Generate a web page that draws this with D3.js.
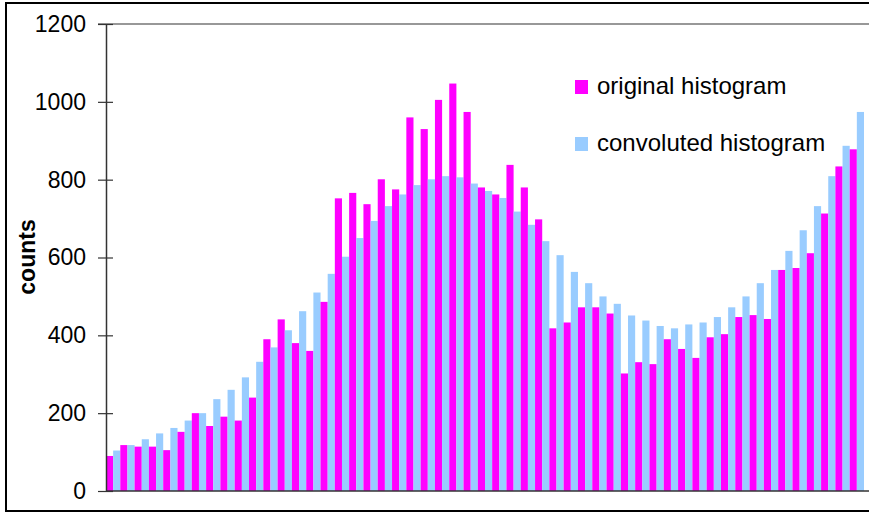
<!DOCTYPE html>
<html>
<head>
<meta charset="utf-8">
<script src="https://cdn.jsdelivr.net/npm/d3@7"></script>
<style>
  html, body { margin: 0; padding: 0; background: #fff; }
  svg { display: block; font-family: "Liberation Sans", Arial, Helvetica, sans-serif; }
</style>
</head>
<body>
<svg id="chart" width="869" height="515"></svg>
<script>
// Histogram bins (one per category) and the two series
const categories = d3.range(1, 54);
const original = [90,118,114,114,105,152,200,167,191,181,240,390,441,380,360,486,752,766,737,801,775,960,930,1005,1047,974,780,762,838,780,698,418,433,472,472,456,302,331,326,390,365,342,395,403,447,452,442,568,573,611,713,834,878];
const convoluted = [104,118,133,148,162,181,200,236,260,292,332,369,413,462,510,558,602,650,694,732,762,786,801,809,806,790,771,753,718,684,642,606,563,534,500,481,451,438,424,418,428,433,447,472,500,534,568,617,670,732,809,887,974];
const seriesNames = ["original histogram", "convoluted histogram"];
const seriesColors = ["#FF00FF", "#99CCFF"];
const yTicks = [0, 200, 400, 600, 800, 1000, 1200];

const svg = d3.select("#chart");
const plot = { left: 106, right: 864, top: 24, bottom: 491 };

// outer frame
svg.append("rect")
  .attr("x", 6).attr("y", 3).attr("width", 870).attr("height", 508)
  .attr("fill", "none").attr("stroke", "#000").attr("stroke-width", 2);

const x = d3.scaleBand().domain(categories).range([plot.left, plot.right]).padding(0);
const xs = d3.scaleBand().domain(seriesNames).range([0, x.bandwidth()]).padding(0);
const y = d3.scaleLinear().domain([0, 1200]).range([plot.bottom, plot.top]);

const rows = categories.map((c, i) => ({ cat: c, values: [original[i], convoluted[i]] }));

const groups = svg.append("g").selectAll("g")
  .data(rows).join("g")
  .attr("transform", d => `translate(${x(d.cat)},0)`);

groups.selectAll("rect")
  .data(d => d.values.map((v, k) => ({ key: seriesNames[k], value: v, k })))
  .join("rect")
  .attr("x", d => xs(d.key))
  .attr("width", xs.bandwidth())
  .attr("y", d => y(d.value))
  .attr("height", d => y(0) - y(d.value))
  .attr("fill", d => seriesColors[d.k]);

// top border line of the plot area
svg.append("line")
  .attr("x1", 98).attr("x2", 869)
  .attr("y1", y(1200)).attr("y2", y(1200))
  .attr("stroke", "#333").attr("stroke-width", 1.2);

// x axis line
svg.append("line")
  .attr("x1", plot.left).attr("x2", 869)
  .attr("y1", y(0)).attr("y2", y(0))
  .attr("stroke", "#333").attr("stroke-width", 1.5);

// y axis with crossing ticks
const yAxis = d3.axisLeft(y).tickValues(yTicks).tickFormat(d3.format("d"))
  .tickSizeInner(8).tickSizeOuter(0).tickPadding(12);
const ya = svg.append("g").attr("transform", `translate(${plot.left},0)`).call(yAxis);
ya.select(".domain").attr("stroke", "#333").attr("stroke-width", 1.5);
ya.selectAll(".tick line").attr("stroke", "#333").attr("stroke-width", 1.2).attr("x2", 7).attr("x1", -8);
ya.selectAll(".tick text")
  .attr("x", -20)
  .attr("fill", "#000")
  .style("font-size", "23px")
  .style("font-family", "'Liberation Sans', Arial, sans-serif");

// y axis title
svg.append("text")
  .attr("transform", "translate(35,257) rotate(-90)")
  .attr("text-anchor", "middle")
  .style("font-size", "23px")
  .style("font-weight", "bold")
  .text("counts");

// legend
const legend = svg.append("g");
const legendY = [80, 137];
seriesNames.forEach((name, k) => {
  legend.append("rect")
    .attr("x", 575).attr("y", legendY[k]).attr("width", 13).attr("height", 14)
    .attr("fill", seriesColors[k]);
  legend.append("text")
    .attr("x", 597).attr("y", legendY[k] + 13.5)
    .style("font-size", "24px")
    .attr("fill", "#000")
    .text(name);
});
</script>
</body>
</html>
